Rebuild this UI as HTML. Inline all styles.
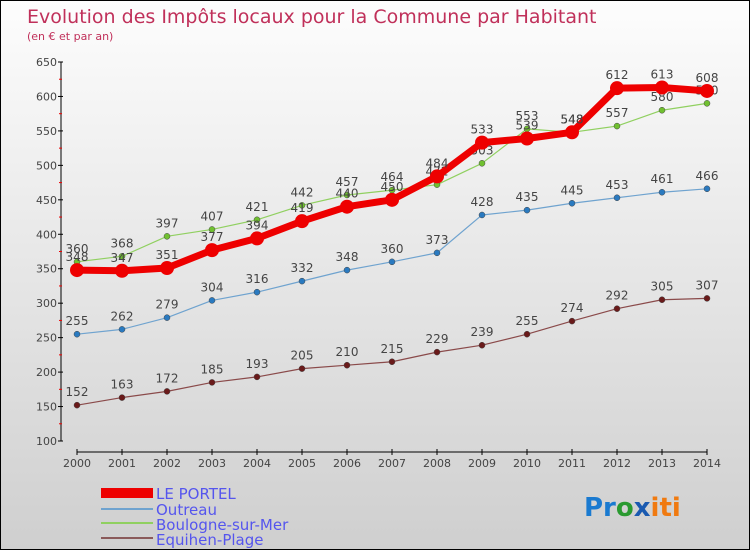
<!DOCTYPE html>
<html><head><meta charset="utf-8"><style>
body{margin:0;}
#c{width:750px;height:550px;position:relative;box-sizing:border-box;border:1px solid #000;background:linear-gradient(#fdfdfd,#cfcfcf);font-family:"DejaVu Sans","Liberation Sans",sans-serif;overflow:hidden}
svg text{font-family:"DejaVu Sans","Liberation Sans",sans-serif}
</style></head><body>
<div id="c">
<svg id="s" width="750" height="550">
<text x="26" y="22" font-size="19" fill="#c0305a">Evolution des Impôts locaux pour la Commune par Habitant</text>
<text x="26" y="39" font-size="11" fill="#c0305a">(en € et par an)</text>
<g id="axes"></g><g id="series"></g>
<g>
<rect x="100" y="487" width="52" height="10" fill="#ee0000"/>
<text x="155" y="498" font-size="15" fill="#5555ee">LE PORTEL</text>
<rect x="100" y="507" width="52" height="2" fill="#6fa3cf"/>
<text x="155" y="514" font-size="15" fill="#5555ee">Outreau</text>
<rect x="100" y="521" width="52" height="2" fill="#90d060"/>
<text x="155" y="529" font-size="15" fill="#5555ee">Boulogne-sur-Mer</text>
<rect x="100" y="536" width="52" height="2" fill="#8a5a5a"/>
<text x="155" y="544" font-size="15" fill="#5555ee">Equihen-Plage</text>
</g>
<g font-size="26" font-weight="bold">
<text x="583" y="515"><tspan fill="#1a7ad0">Pr</tspan><tspan fill="#2a9a30">o</tspan><tspan fill="#1a5ab0">x</tspan><tspan fill="#f07a10">iti</tspan></text>
</g>
</svg></div>
<script>
const years=[2000,2001,2002,2003,2004,2005,2006,2007,2008,2009,2010,2011,2012,2013,2014];
const yTicks=[100,150,200,250,300,350,400,450,500,550,600,650];
const lePortel=[348,347,351,377,394,419,440,450,484,533,539,548,612,613,608];
const outreau=[255,262,279,304,316,332,348,360,373,428,435,445,453,461,466];
const boulogne=[360,368,397,407,421,442,457,464,472,503,553,548,557,580,590];
const equihen=[152,163,172,185,193,205,210,215,229,239,255,274,292,305,307];
const NS="http://www.w3.org/2000/svg";
const xs=i=>76+i*45;
const ys=v=>440-(v-100)*(379/550);
function mk(p,t,a){const e=document.createElementNS(NS,t);for(const k in a)e.setAttribute(k,a[k]);p.appendChild(e);return e;}
const ax=document.getElementById('axes');
let yl=mk(ax,'line',{x1:60,y1:ys(650),x2:60,y2:ys(100),stroke:'#000'});


yTicks.forEach(v=>{
 mk(ax,'line',{x1:57,x2:62,y1:ys(v),y2:ys(v),stroke:'#000'});
 if(v<650)mk(ax,'line',{x1:58,x2:61,y1:ys(v+25),y2:ys(v+25),stroke:'#e00'});
 const t=mk(ax,'text',{x:56,y:ys(v)+4,'text-anchor':'end','font-size':11,fill:'#444'});
 t.textContent=v;
 
 
});
let xl=mk(ax,'line',{x1:76,y1:451,x2:706,y2:451,stroke:'#000'});


years.forEach((y,i)=>{
 mk(ax,'line',{x1:xs(i),x2:xs(i),y1:448,y2:454,stroke:'#000'});
 const t=mk(ax,'text',{x:xs(i),y:466,'text-anchor':'middle','font-size':11,fill:'#444'});
 t.textContent=y;
 
 
});
const sg=document.getElementById('series');
function draw(data,name,color,w,r,dot){
 const g=mk(sg,'g',{});
 
 
 const pl=mk(g,'polyline',{points:data.map((v,i)=>xs(i)+','+ys(v)).join(' '),fill:'none',stroke:color,'stroke-width':w,'stroke-linejoin':'round'});
 
 
 data.forEach((v,i)=>{
  const c=mk(g,'circle',{cx:xs(i),cy:ys(v),r:r,fill:dot,stroke:'#444','stroke-width':r>5?0:0.5});
  
  
  const t=mk(g,'text',{x:xs(i),y:ys(v)-9,'text-anchor':'middle','font-size':12,fill:'#444'});
  t.textContent=v;
  
  
 });
}
draw(equihen,'equihen','#8a4a4a',1.2,3,'#6a1a1a');
draw(outreau,'outreau','#6fa3cf',1.2,3,'#2a7ac0');
draw(boulogne,'boulogne','#90d060',1.2,3,'#70c030');
draw(lePortel,'le-portel','#ee0000',7,7,'#ee0000');
</script>
</body></html>
